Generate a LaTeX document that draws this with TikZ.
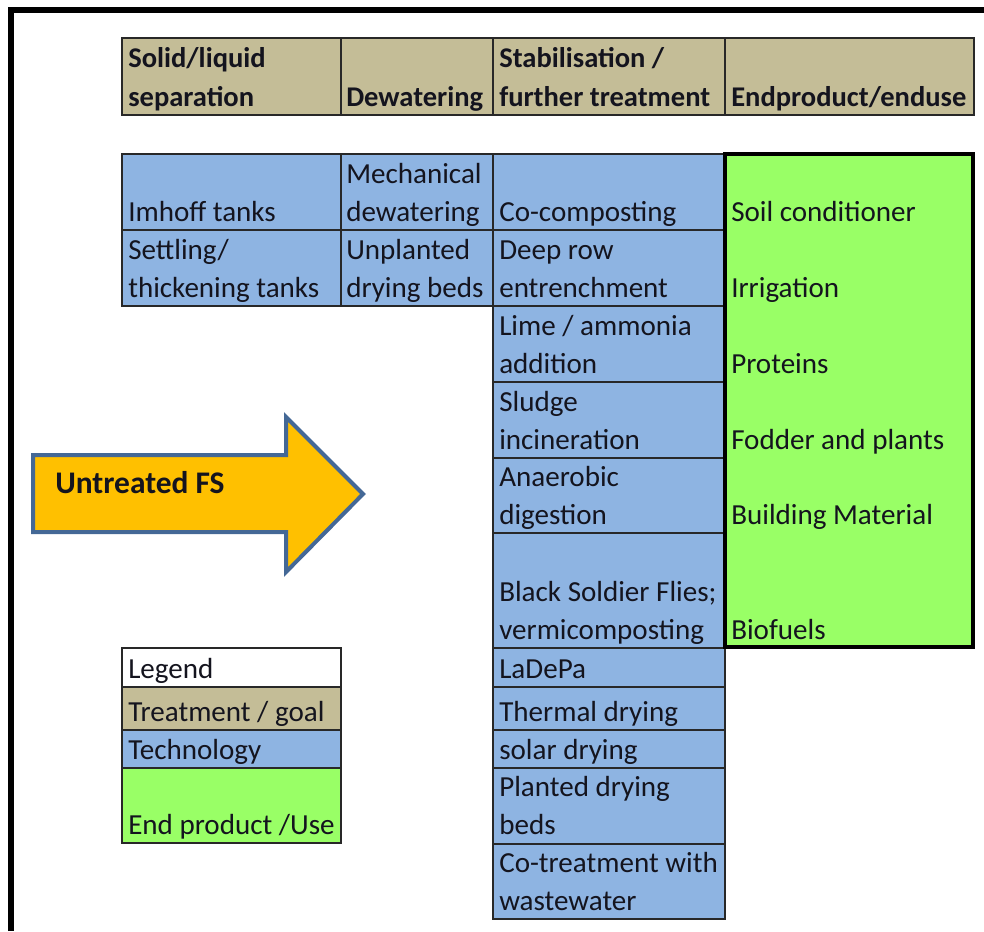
\documentclass[tikz,border=0pt]{standalone}
\usepackage{fontspec}
\setmainfont{Carlito}
\usepackage{tikz}

\begin{document}
\begin{tikzpicture}[x=0.75pt,y=0.75pt,yscale=-1,xscale=1,
  hdr/.style={draw={rgb, 255:red, 40; green, 40; blue, 40 },line width=0.9pt,fill={rgb, 255:red, 196; green, 189; blue, 151 }},
  tech/.style={draw={rgb, 255:red, 40; green, 40; blue, 40 },line width=0.9pt,fill={rgb, 255:red, 142; green, 180; blue, 226 }},
  endp/.style={draw=black,line width=2.3pt,fill={rgb, 255:red, 153; green, 255; blue, 102 }},
  blank/.style={draw={rgb, 255:red, 40; green, 40; blue, 40 },line width=0.9pt,fill=white},
  cell/.style={anchor=base west,inner sep=0pt,align=left,text={rgb, 255:red, 20; green, 20; blue, 30 },font=\fontsize{21.8pt}{28.5pt}\selectfont},
  bcell/.style={cell,font=\fontsize{21.4pt}{28.5pt}\selectfont\bfseries}]
\useasboundingbox (0,0) rectangle (984,931);

%Frame
\draw [line width=4.5pt] (10.5,931) -- (10.5,10.5) -- (984,10.5) ;

%Shape: Rectangle header row
\draw [hdr] (122,38) rectangle (341,115) ;
\draw [hdr] (341,38) rectangle (493,115) ;
\draw [hdr] (493,38) rectangle (725,115) ;
\draw [hdr] (725,38) rectangle (974,115) ;

%Shape: Rectangle technologies
\draw [tech] (122,154) rectangle (341,230) ;
\draw [tech] (122,230) rectangle (341,306) ;
\draw [tech] (341,154) rectangle (493,230) ;
\draw [tech] (341,230) rectangle (493,306) ;
\draw [tech] (493,154) rectangle (725,230) ;
\draw [tech] (493,230) rectangle (725,306) ;
\draw [tech] (493,306) rectangle (725,382) ;
\draw [tech] (493,382) rectangle (725,458) ;
\draw [tech] (493,458) rectangle (725,533) ;
\draw [tech] (493,533) rectangle (725,648) ;
\draw [tech] (493,648) rectangle (725,687) ;
\draw [tech] (493,687) rectangle (725,730) ;
\draw [tech] (493,730) rectangle (725,768) ;
\draw [tech] (493,768) rectangle (725,844) ;
\draw [tech] (493,844) rectangle (725,919) ;

%Shape: Rectangle end products
\draw [endp] (725,154) rectangle (973,647) ;

%Shape: Rectangle legend
\draw [blank] (122,648) rectangle (341,687) ;
\draw [hdr] (122,687) rectangle (341,730) ;
\draw [tech] (122,730) rectangle (341,768) ;
\draw [tech,fill={rgb, 255:red, 153; green, 255; blue, 102 }] (122,768) rectangle (341,843) ;

%Shape: Right Arrow
\draw [color={rgb, 255:red, 68; green, 104; blue, 150 },line width=3pt,line join=miter,fill={rgb, 255:red, 255; green, 192; blue, 0 }] (33,455) -- (286,455) -- (286,417) -- (363,494) -- (286,572) -- (286,532) -- (33,532) -- cycle ;

% Text Node
\node (solid) [bcell] at (128,106) {Solid/liquid\\separation};
% Text Node
\node (dewat) [bcell] at (346,106) {Dewatering};
% Text Node
\node (stab) [bcell] at (499,106) {Stabilisation /\\further treatment};
% Text Node
\node (enduse) [bcell] at (731,106) {Endproduct/enduse};

% Text Node
\node (imhoff) [cell] at (128,221) {Imhoff tanks};
% Text Node
\node (settling) [cell] at (128,297) {Settling/\\thickening tanks};
% Text Node
\node (mech) [cell] at (346,221) {Mechanical\\dewatering};
% Text Node
\node (unplanted) [cell] at (346,297) {Unplanted\\drying beds};
% Text Node
\node (cocomp) [cell] at (499,221) {Co-composting};
% Text Node
\node (deeprow) [cell] at (499,297) {Deep row\\entrenchment};
% Text Node
\node (lime) [cell] at (499,373) {Lime / ammonia\\addition};
% Text Node
\node (incin) [cell] at (499,449) {Sludge\\incineration};
% Text Node
\node (anaer) [cell] at (499,524) {Anaerobic\\digestion};
% Text Node
\node (bsf) [cell] at (499,639) {Black Soldier Flies;\\vermicomposting};
% Text Node
\node (ladepa) [cell] at (499,678) {LaDePa};
% Text Node
\node (thermal) [cell] at (499,721) {Thermal drying};
% Text Node
\node (solar) [cell] at (499,759) {solar drying};
% Text Node
\node (planted) [cell] at (499,834) {Planted drying\\beds};
% Text Node
\node (cotreat) [cell] at (499,910) {Co-treatment with\\wastewater};

% Text Node
\node (soil) [cell] at (731,221) {Soil conditioner};
% Text Node
\node (irrig) [cell] at (731,297) {Irrigation};
% Text Node
\node (prot) [cell] at (731,373) {Proteins};
% Text Node
\node (fodder) [cell] at (731,449) {Fodder and plants};
% Text Node
\node (build) [cell] at (731,524) {Building Material};
% Text Node
\node (biofuel) [cell] at (731,639) {Biofuels};

% Text Node
\node (legend) [cell] at (128,678) {Legend};
% Text Node
\node (leggoal) [cell] at (128,721) {Treatment / goal};
% Text Node
\node (legtech) [cell] at (128,759) {Technology};
% Text Node
\node (legend) [cell] at (128,834) {End product /Use};

% Text Node
\node (untreated) [bcell,font=\fontsize{23.6pt}{28.5pt}\selectfont\bfseries] at (55,493) {Untreated FS};
\end{tikzpicture}
\end{document}
